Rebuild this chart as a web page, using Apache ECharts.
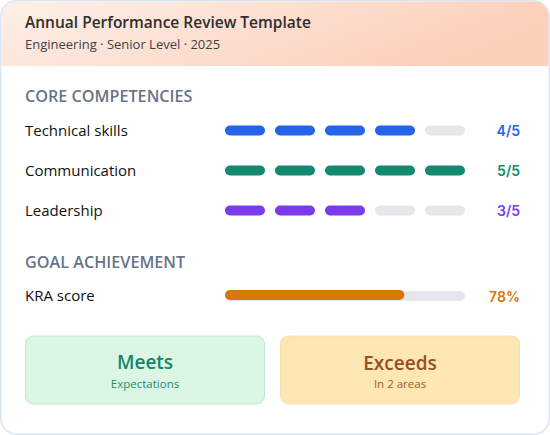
<!DOCTYPE html>
<html><head><meta charset="utf-8">
<script src="https://cdn.jsdelivr.net/npm/echarts@6/dist/echarts.min.js"></script>
<style>html,body{margin:0;padding:0;background:#fff}#c{width:550px;height:435px}</style>
</head><body><div id="c"></div>
<script>
const title = 'Annual Performance Review Template';
const subtitle = 'Engineering · Senior Level · 2025';
const sectionTitles = ['CORE COMPETENCIES', 'GOAL ACHIEVEMENT'];
const competencies = ['Technical skills', 'Communication', 'Leadership'];
const scores = [4, 5, 3];
const maxScore = 5;
const scoreColors = ['#2563eb', '#138a6f', '#7c3aed'];
const kraLabel = ['KRA score'];
const kraScore = [78];
const summaryTitles = ['Meets', 'Exceeds'];
const summarySubs = ['Expectations', 'In 2 areas'];

const FONT = '"Open Sans", Lato, sans-serif';
const chart = echarts.init(document.getElementById('c'), null, {renderer: 'svg'});

const segData = [];
competencies.forEach((c, r) => { for (let i = 0; i < maxScore; i++) segData.push([i, r, i < scores[r] ? 1 : 0]); });

chart.setOption({
  animation: false,
  graphic: [
    {type: 'rect', shape: {x: 0.75, y: 0.75, width: 548.5, height: 433.5, r: 16}, style: {fill: '#fff', stroke: '#dbe5f2', lineWidth: 1.5}, z: 0},
    {type: 'rect', shape: {x: 1.5, y: 1.5, width: 547, height: 64.5, r: [15, 15, 0, 0]},
      style: {fill: new echarts.graphic.LinearGradient(0, 0, 1, 0.3, [{offset: 0, color: '#fdf0e9'}, {offset: 1, color: '#fccfb9'}])}, z: 1},
    {type: 'text', x: 25, y: 22, style: {text: title, font: '600 15.5px ' + FONT, fill: '#2e2e2e', verticalAlign: 'middle'}, z: 2},
    {type: 'text', x: 25, y: 44, style: {text: subtitle, font: '13px ' + FONT, fill: '#3f3f46', verticalAlign: 'middle'}, z: 2},
    {type: 'text', x: 25, y: 96, style: {text: sectionTitles[0], font: '600 16.2px ' + FONT, fill: '#687489', verticalAlign: 'middle'}, z: 2},
    {type: 'text', x: 25, y: 262, style: {text: sectionTitles[1], font: '600 16.2px ' + FONT, fill: '#687489', verticalAlign: 'middle'}, z: 2},
    {type: 'rect', shape: {x: 225, y: 291, width: 240, height: 10, r: 5}, style: {fill: '#e5e7eb'}, z: 2},
    {type: 'text', x: 520, y: 296, style: {text: kraScore[0] + '%', font: '600 14px Inter, ' + FONT, fill: '#d97706', align: 'right', verticalAlign: 'middle'}, z: 3},
    {type: 'rect', shape: {x: 25.5, y: 336, width: 239, height: 68, r: 8}, style: {fill: '#dcf6e4', stroke: '#bfe6cf', lineWidth: 1}, z: 2},
    {type: 'rect', shape: {x: 280.5, y: 336, width: 239, height: 68, r: 8}, style: {fill: '#fee7b2', stroke: '#f6e2b8', lineWidth: 1}, z: 2},
    {type: 'text', x: 145, y: 362, style: {text: summaryTitles[0], font: '600 19px ' + FONT, fill: '#13876d', align: 'center', verticalAlign: 'middle'}, z: 3},
    {type: 'text', x: 145, y: 383, style: {text: summarySubs[0], font: '11.5px ' + FONT, fill: '#1f8a6e', align: 'center', verticalAlign: 'middle'}, z: 3},
    {type: 'text', x: 400, y: 363, style: {text: summaryTitles[1], font: '600 19px ' + FONT, fill: '#9b4d26', align: 'center', verticalAlign: 'middle'}, z: 3},
    {type: 'text', x: 400, y: 383, style: {text: summarySubs[1], font: '11.5px ' + FONT, fill: '#9b5a35', align: 'center', verticalAlign: 'middle'}, z: 3}
  ],
  grid: [
    {left: 225, top: 110, width: 250, height: 120},
    {left: 225, top: 285, width: 230, height: 20}
  ],
  xAxis: [
    {gridIndex: 0, type: 'value', min: 0, max: maxScore, show: false},
    {gridIndex: 1, type: 'value', min: 0, max: 100, show: false}
  ],
  yAxis: [
    {gridIndex: 0, type: 'category', data: competencies, inverse: true, axisLine: {show: false}, axisTick: {show: false}, splitLine: {show: false},
      axisLabel: {align: 'left', margin: 200, fontSize: 15, color: '#111', fontFamily: FONT}},
    {gridIndex: 1, type: 'category', data: kraLabel, axisLine: {show: false}, axisTick: {show: false}, splitLine: {show: false},
      axisLabel: {align: 'left', margin: 200, fontSize: 15, color: '#111', fontFamily: FONT}}
  ],
  series: [
    {type: 'custom', xAxisIndex: 0, yAxisIndex: 0, data: segData, z: 5,
      renderItem: function (params, api) {
        const i = api.value(0), r = api.value(1), on = api.value(2);
        const p0 = api.coord([i, r]), p1 = api.coord([i + 1, r]);
        const children = [{type: 'rect', shape: {x: p0[0], y: p0[1] - 4.5, width: p1[0] - p0[0] - 10, height: 10, r: 5},
          style: {fill: on ? scoreColors[r] : '#e5e7eb'}}];
        if (i === maxScore - 1) {
          children.push({type: 'text', x: 520, y: p0[1], style: {text: scores[r] + '/' + maxScore, font: '600 14px Inter, ' + FONT,
            fill: scoreColors[r], align: 'right', verticalAlign: 'middle'}});
        }
        return {type: 'group', children: children};
      }},
    {type: 'bar', xAxisIndex: 1, yAxisIndex: 1, data: kraScore, barWidth: 10, z: 5,
      itemStyle: {color: '#d97706', borderRadius: 5}}
  ]
});
</script></body></html>
